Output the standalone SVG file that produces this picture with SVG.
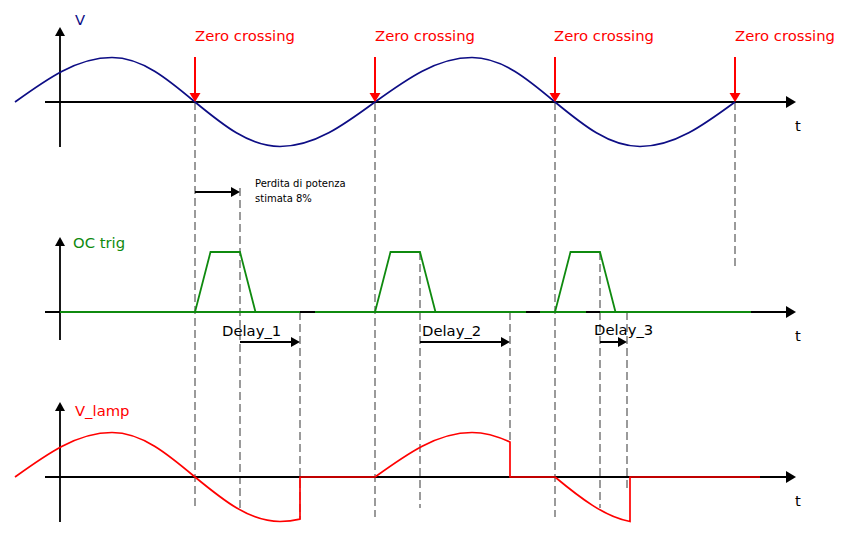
<svg xmlns="http://www.w3.org/2000/svg" width="849" height="539" viewBox="0 0 849 539">
<style>
text{font-family:"DejaVu Sans","Liberation Sans",sans-serif;font-size:14.8px}
.ax{stroke:#000;stroke-width:1.8;fill:none}
.ah{fill:#000}
.dash{stroke:#7a7a7a;stroke-width:1.5;stroke-dasharray:8 4;fill:none}
.red{fill:#ff0000}
.zc{stroke:#ff0000;stroke-width:2;fill:none}
.navy{stroke:#0d0d85;stroke-width:1.7;fill:none}
.grn{stroke:#0f8a0f;stroke-width:1.8;fill:none}
.rl{stroke:#ff0000;stroke-width:1.7;fill:none}
.arr{stroke:#000;stroke-width:2;fill:none}
.sm{font-size:10px}
</style>
<rect width="849" height="539" fill="#fff"/>

<g id="guides">
<path class="dash" d="M195,102V508M375,102V517M555,102V517M735,102V268M240,188V508M420,252V508M600,252V508M300,312V519M510,312V442M627,312V488"/>
</g>

<g id="panel-v">
<path class="ax" d="M60,147V35M45,102H787"/>
<polygon class="ah" points="60,27 55,36 65,36"/>
<polygon class="ah" points="796,102 786,96 786,108"/>
<text x="75" y="25" fill="#0d0d85">V</text>
<text x="795" y="131" fill="#000">t</text>
<path class="navy" d="M15,102 C46.6,79.2 76.9,57.5 112,57.5 C142,57.5 167.9,79.2 195,102 C222.7,124.8 249.2,146.5 280,146.5 C314.4,146.5 344,124.8 375,102 C406.6,79.2 436.9,57.5 472,57.5 C502,57.5 527.9,79.2 555,102 C582.7,124.8 609.2,146.5 640,146.5 C674.4,146.5 704,124.8 735,102"/>
</g>

<g id="zero-crossings">
<path class="zc" d="M195,57V94M375,57V94M555,57V94M735,57V94"/>
<polygon class="red" points="195,102 189.5,93 200.5,93"/>
<polygon class="red" points="375,102 369.5,93 380.5,93"/>
<polygon class="red" points="555,102 549.5,93 560.5,93"/>
<polygon class="red" points="735,102 729.5,93 740.5,93"/>
<text x="195" y="41" fill="#ff0000">Zero crossing</text>
<text x="375" y="41" fill="#ff0000">Zero crossing</text>
<text x="554" y="41" fill="#ff0000">Zero crossing</text>
<text x="735" y="41" fill="#ff0000">Zero crossing</text>
</g>

<g id="loss-note">
<path class="arr" d="M195,192H232"/>
<polygon class="ah" points="240,192 231,187 231,197"/>
<text x="255" y="187" class="sm">Perdita di potenza</text>
<text x="255" y="202" class="sm">stimata 8%</text>
</g>

<g id="panel-oc">
<path class="ax" d="M60,340V245M45,312H787"/>
<polygon class="ah" points="60,237 55,246 65,246"/>
<polygon class="ah" points="796,312 786,306 786,318"/>
<text x="73" y="248" fill="#0f8a0f">OC trig</text>
<text x="795" y="341" fill="#000">t</text>
<path class="grn" d="M60,312H300M315,312H526M540,312H586M600,312H751"/>
<path class="grn" d="M195,312L210.5,252H240L255.5,312M375,312L390.5,252H420L435.5,312M555,312L570.5,252H600L615.5,312"/>
</g>

<g id="delays">
<text x="222" y="336" fill="#000">Delay_1</text>
<path class="arr" d="M240,342H292"/>
<polygon class="ah" points="300,342 291,337 291,347"/>
<text x="422" y="336" fill="#000">Delay_2</text>
<path class="arr" d="M420,342H502"/>
<polygon class="ah" points="510,342 501,337 501,347"/>
<text x="594" y="335" fill="#000">Delay_3</text>
<path class="arr" d="M600,342H619"/>
<polygon class="ah" points="627,342 618,337 618,347"/>
</g>

<g id="panel-vlamp">
<path class="ax" d="M60,522V410M45,477H787"/>
<polygon class="ah" points="60,402 55,411 65,411"/>
<polygon class="ah" points="796,477 786,471 786,483"/>
<text x="75" y="416" fill="#ff0000">V_lamp</text>
<text x="795" y="506" fill="#000">t</text>
<path class="rl" d="M15,477 C46.6,454.2 76.9,432.5 112,432.5 C142,432.5 167.9,454.2 195,477 C222.7,499.8 249.2,521.5 280,521.5 C286.7,521.5 293.3,520.8 300,519.2 L300,477 L375,477 C406.6,454.2 436.9,432.5 472,432.5 C484.7,432.5 497.3,436.2 510,442 L510,477 L555,477 C580,497.8 605,517 630,521.5 L630,477 L760,477"/>
</g>
</svg>
